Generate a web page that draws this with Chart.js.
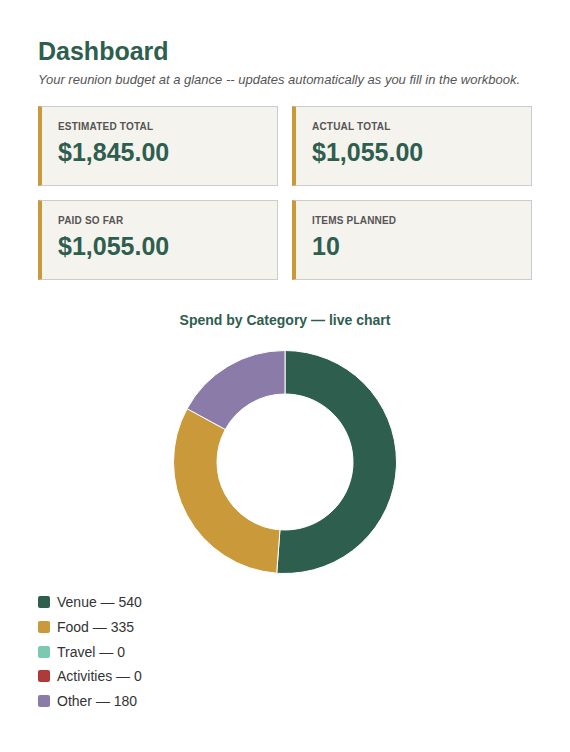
<!DOCTYPE html>
<html>
<head>
<meta charset="utf-8">
<script src="https://cdn.jsdelivr.net/npm/chart.js@4"></script>
<style>
body { margin: 0; background: #fff; font-family: "Liberation Sans", Arial, sans-serif; }
.wrap { position: absolute; left: 38px; top: 0; width: 494px; }
h1 { margin: 37px 0 0; font-size: 25px; color: #2E5E4E; font-weight: bold; }
.sub { margin: 6px 0 0; font-size: 13px; font-style: italic; color: #555; }
.grid { margin-top: 19px; display: grid; grid-template-columns: 240px 240px; column-gap: 14px; row-gap: 14px; }
.card { box-sizing: border-box; height: 80px; background: #F5F3EE; border: 1px solid #ccc; border-left: 4px solid #C9993A; padding: 14px 0 0 16px; }
.card .lab { font-size: 10px; font-weight: bold; color: #555; letter-spacing: 0.2px; }
.card .val { font-size: 25px; font-weight: bold; color: #2E5E4E; margin-top: 6px; }
.ctitle { position: absolute; left: 0; top: 312px; width: 494px; text-align: center; font-size: 14px; font-weight: bold; color: #2E5E4E; }
.cbox { position: absolute; left: 0; top: 342px; width: 494px; height: 240px; }
.legend { position: absolute; left: 0; top: 590px; font-size: 14px; color: #333; }
.legend div { height: 24.7px; display: flex; align-items: center; }
.legend span { display: inline-block; width: 12px; height: 12px; border-radius: 2px; margin-right: 7px; }
</style>
</head>
<body>
<div class="wrap">
  <h1>Dashboard</h1>
  <p class="sub">Your reunion budget at a glance -- updates automatically as you fill in the workbook.</p>
  <div class="grid">
    <div class="card"><div class="lab">ESTIMATED TOTAL</div><div class="val">$1,845.00</div></div>
    <div class="card"><div class="lab">ACTUAL TOTAL</div><div class="val">$1,055.00</div></div>
    <div class="card"><div class="lab">PAID SO FAR</div><div class="val">$1,055.00</div></div>
    <div class="card"><div class="lab">ITEMS PLANNED</div><div class="val">10</div></div>
  </div>
  <div class="ctitle">Spend by Category — live chart</div>
  <div class="cbox"><canvas id="spendChart"></canvas></div>
  <div class="legend" id="legend"></div>
</div>
<script>
const categories = ['Venue', 'Food', 'Travel', 'Activities', 'Other'];
const spend = [540, 335, 0, 0, 180];
const colors = ['#2E5E4E', '#C9993A', '#7CC8B0', '#B03A3A', '#8A7BA8'];

// Spend Chart
new Chart(document.getElementById('spendChart'), {
    type: 'doughnut',
    data: {
        labels: categories,
        datasets: [{
            data: spend,
            backgroundColor: colors,
            borderWidth: 1,
            borderColor: '#fff'
        }]
    },
    options: {
        responsive: true,
        maintainAspectRatio: false,
        animation: false,
        cutout: '61%',
        layout: { padding: { top: 8, bottom: 8 } },
        plugins: { legend: { display: false }, tooltip: { enabled: false } }
    }
});

document.getElementById('legend').innerHTML = categories.map((c, i) =>
    `<div><span style="background:${colors[i]}"></span>${c} — ${spend[i]}</div>`).join('');
</script>
</body>
</html>
